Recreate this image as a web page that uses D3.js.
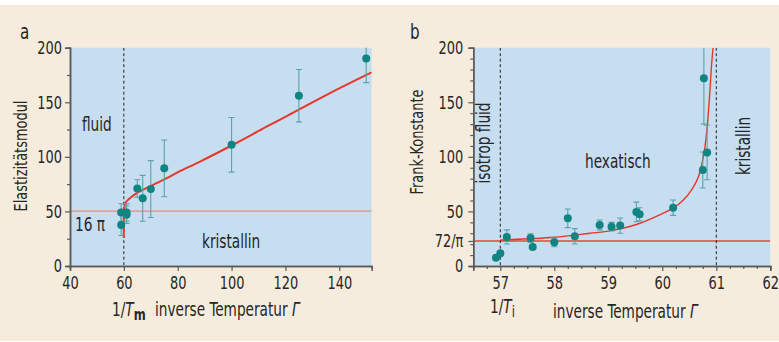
<!DOCTYPE html>
<html>
<head>
<meta charset="utf-8">
<script src="https://cdn.jsdelivr.net/npm/d3@7"></script>
<style>
  html, body { margin: 0; padding: 0; background: #ffffff; }
  svg text { font-family: "Liberation Sans Narrow", "DejaVu Sans Condensed", "Arial Narrow", sans-serif; fill: #262626; }
</style>
</head>
<body>
<div id="chart"></div>
<script>
// panel a: elastic modulus vs inverse temperature
const aX = [59, 59, 61, 61, 65, 67, 70, 75, 100, 125, 150];
const aY = [49, 37.5, 49, 47, 71, 62, 70.5, 89.5, 111, 156, 190];
const aErr = [8, 9.5, 8, 8, 8, 21, 26, 26, 25, 24, 22];
const aCurveX = [60, 60, 60.2, 60.5, 61.7, 64.8, 69.7, 75.9, 80.3, 88.3, 100, 113, 124.8, 137.8, 152];
const aCurveY = [25.6, 45, 53, 57.6, 61, 66.8, 72.9, 80.5, 86.3, 95.7, 110.4, 127.6, 143, 160, 177.4];
const aXTicks = [40, 60, 80, 100, 120, 140];
const aYTicks = [0, 50, 100, 150, 200];

// panel b: Frank constant vs inverse temperature
const bX = [56.92, 57.0, 57.12, 57.56, 57.6, 58.0, 58.25, 58.38, 58.84, 59.06, 59.22, 59.52, 59.58, 60.2, 60.75, 60.77, 60.83];
const bY = [7.6, 11.6, 26.6, 25.6, 17.4, 21.7, 43.7, 27.2, 37.6, 36, 37, 49.5, 47.3, 53.4, 88, 172, 104];
const bErr = [0, 0, 6.5, 4, 0, 4, 8.5, 7, 4.5, 4, 7, 9, 6, 7, 16.5, 42, 25];
const bCurveX = [57, 58, 58.66, 59, 59.52, 60, 60.2, 60.39, 60.54, 60.67, 60.76, 60.82, 60.87, 60.91, 60.94];
const bCurveY = [23.8, 26.3, 30, 32, 38, 48, 53, 60.5, 69.6, 81.8, 100, 121.5, 152, 182.6, 200];
const bXTicks = [57, 58, 59, 60, 61, 62];
const bYTicks = [0, 72 / Math.PI, 50, 100, 150, 200];
const bYTickLabels = ["0", "72/\u03c0", "50", "100", "150", "200"];

const W = 779, H = 342;
const SX = 0.8; // narrow the condensed font to match the reference
const svg = d3.select("#chart").append("svg").attr("width", W).attr("height", H);

svg.append("rect").attr("x", 0).attr("y", 5).attr("width", W).attr("height", H - 6).attr("fill", "#f6ecde");

const axisColor = "#5a5a5a";
const dotColor = "#0e8483";
const barColor = "#5aa3a6";

function panel(opts) {
  const x = d3.scaleLinear().domain(opts.xDomain).range(opts.xRange);
  const y = d3.scaleLinear().domain([0, 200]).range([266, 47.7]);
  const g = svg.append("g");

  g.append("rect")
    .attr("x", opts.xRange[0]).attr("y", y(200))
    .attr("width", opts.xRange[1] - opts.xRange[0]).attr("height", y(0) - y(200))
    .attr("fill", "#c6def0");

  const clipId = "clip-" + opts.name;
  g.append("clipPath").attr("id", clipId).append("rect")
    .attr("x", opts.xRange[0]).attr("y", y(200))
    .attr("width", opts.xRange[1] - opts.xRange[0]).attr("height", y(0) - y(200));
  const inner = g.append("g").attr("clip-path", `url(#${clipId})`);

  // reference line
  inner.append("line")
    .attr("x1", opts.xRange[0]).attr("x2", opts.xRange[1])
    .attr("y1", y(opts.hLine)).attr("y2", y(opts.hLine))
    .attr("stroke", opts.hColor).attr("stroke-width", 1.3);

  opts.vLines.forEach((v) => {
    inner.append("line")
      .attr("x1", x(v)).attr("x2", x(v)).attr("y1", y(200)).attr("y2", y(0))
      .attr("stroke", "#222").attr("stroke-width", 1).attr("stroke-dasharray", "3,2.5");
  });

  // fit curve
  inner.append("path")
    .datum(d3.zip(opts.curveX, opts.curveY))
    .attr("d", d3.line().x((d) => x(d[0])).y((d) => y(d[1])).curve(d3.curveCatmullRom))
    .attr("fill", "none").attr("stroke", "#e8362a").attr("stroke-width", opts.curveWidth);

  // error bars
  const pts = opts.px.map((v, i) => ({ x: v, y: opts.py[i], e: opts.pe[i] }));
  const eb = inner.selectAll("g.eb").data(pts.filter((d) => d.e > 0)).join("g").attr("class", "eb")
    .attr("stroke", barColor).attr("stroke-width", 1.1);
  eb.append("line").attr("x1", (d) => x(d.x)).attr("x2", (d) => x(d.x))
    .attr("y1", (d) => y(d.y - d.e)).attr("y2", (d) => y(d.y + d.e));
  eb.append("line").attr("x1", (d) => x(d.x) - 3).attr("x2", (d) => x(d.x) + 3)
    .attr("y1", (d) => y(d.y - d.e)).attr("y2", (d) => y(d.y - d.e));
  eb.append("line").attr("x1", (d) => x(d.x) - 3).attr("x2", (d) => x(d.x) + 3)
    .attr("y1", (d) => y(d.y + d.e)).attr("y2", (d) => y(d.y + d.e));

  g.selectAll("circle").data(pts).join("circle")
    .attr("cx", (d) => x(d.x)).attr("cy", (d) => y(d.y)).attr("r", 4)
    .attr("fill", dotColor);

  // axes
  const yAxis = g.append("g").attr("transform", `translate(${opts.xRange[0]},0)`)
    .call(d3.axisLeft(y).tickValues(opts.yTicks).tickFormat((d, i) => opts.yLabels[i]).tickSize(5).tickPadding(opts.yPad));
  const yMinor = g.append("g").attr("transform", `translate(${opts.xRange[0]},0)`)
    .call(d3.axisLeft(y).tickValues(opts.yMinor).tickFormat("").tickSize(3));
  const xAxis = g.append("g").attr("transform", `translate(0,${y(0)})`)
    .call(d3.axisBottom(x).tickValues(opts.xTicks).tickFormat(d3.format("d")).tickSize(5).tickPadding(5));
  const xMinor = g.append("g").attr("transform", `translate(0,${y(0)})`)
    .call(d3.axisBottom(x).tickValues(opts.xMinor).tickFormat("").tickSize(3));
  [yAxis, yMinor, xAxis, xMinor].forEach((a) => {
    a.select(".domain").attr("stroke", axisColor).attr("stroke-width", 1.5);
    a.selectAll(".tick line").attr("stroke", axisColor).attr("stroke-width", 1.2);
    a.selectAll("text").attr("font-size", 18).attr("fill", "#262626")
      .style("font-family", '"Liberation Sans Narrow", "DejaVu Sans Condensed", sans-serif');
  });
  yAxis.selectAll(".tick text").attr("transform", `scale(${SX},1)`)
    .attr("x", function () { return +d3.select(this).attr("x") / SX; });
  xAxis.selectAll(".tick text").attr("transform", `scale(${SX},1)`);
  return { x, y, g };
}

panel({
  name: "a", xDomain: [40, 152], xRange: [70, 371.6],
  xTicks: aXTicks, xMinor: [], yTicks: aYTicks, yLabels: aYTicks.map(String),
  yMinor: [25, 75, 125, 175], yPad: 3,
  hLine: 16 * Math.PI, hColor: "#ec8a7c", vLines: [60],
  curveX: aCurveX, curveY: aCurveY, curveWidth: 2,
  px: aX, py: aY, pe: aErr,
});

panel({
  name: "b", xDomain: [56.5, 62], xRange: [473.3, 770.3],
  xTicks: bXTicks, xMinor: d3.range(56.5, 62.01, 0.25).filter((v) => v % 1 !== 0),
  yTicks: bYTicks, yLabels: bYTickLabels, yPad: 5,
  yMinor: [10, 20, 30, 40, 60, 70, 80, 90, 110, 120, 130, 140, 160, 170, 180, 190],
  hLine: 72 / Math.PI, hColor: "#e8463a", vLines: [57, 61],
  curveX: bCurveX, curveY: bCurveY, curveWidth: 1.4,
  px: bX, py: bY, pe: bErr,
});

// labels
function textAt(x, y, size, anchor, rot) {
  return svg.append("text")
    .attr("font-size", size).attr("text-anchor", anchor || "start")
    .attr("transform", `translate(${x},${y})${rot ? " rotate(-90)" : ""} scale(${SX},1)`);
}
function label(txt, x, y, size, anchor, rot) {
  return textAt(x, y, size, anchor, rot).text(txt);
}

label("a", 20, 39, 21);
label("b", 410, 39, 21);
label("fluid", 82, 131, 19);
label("16 \u03c0", 75, 231, 19);
label("kristallin", 202, 248, 19);
label("Elastizitätsmodul", 27, 156, 18, "middle", true);

label("hexatisch", 585, 168, 19);
label("isotrop fluid", 490, 143, 19, "middle", true);
label("kristallin", 750, 146, 19, "middle", true);
label("Frank-Konstante", 423, 142, 18, "middle", true);

function tLabel(x, y, sub) {
  const t = textAt(x, y, 19);
  t.append("tspan").text("1/");
  t.append("tspan").attr("font-style", "italic").text("T");
  t.append("tspan").attr("dy", 4).attr("font-size", 16).attr("font-weight", sub === "m" ? "bold" : "normal").text(sub);
}
tLabel(112, 316, "m");
tLabel(490, 313, "i");

function title(x, y) {
  const t = textAt(x, y, 19);
  t.append("tspan").text("inverse Temperatur ");
  t.append("tspan").attr("font-style", "italic").text("\u0393");
}
title(155, 316);
title(553, 318);
</script>
</body>
</html>
